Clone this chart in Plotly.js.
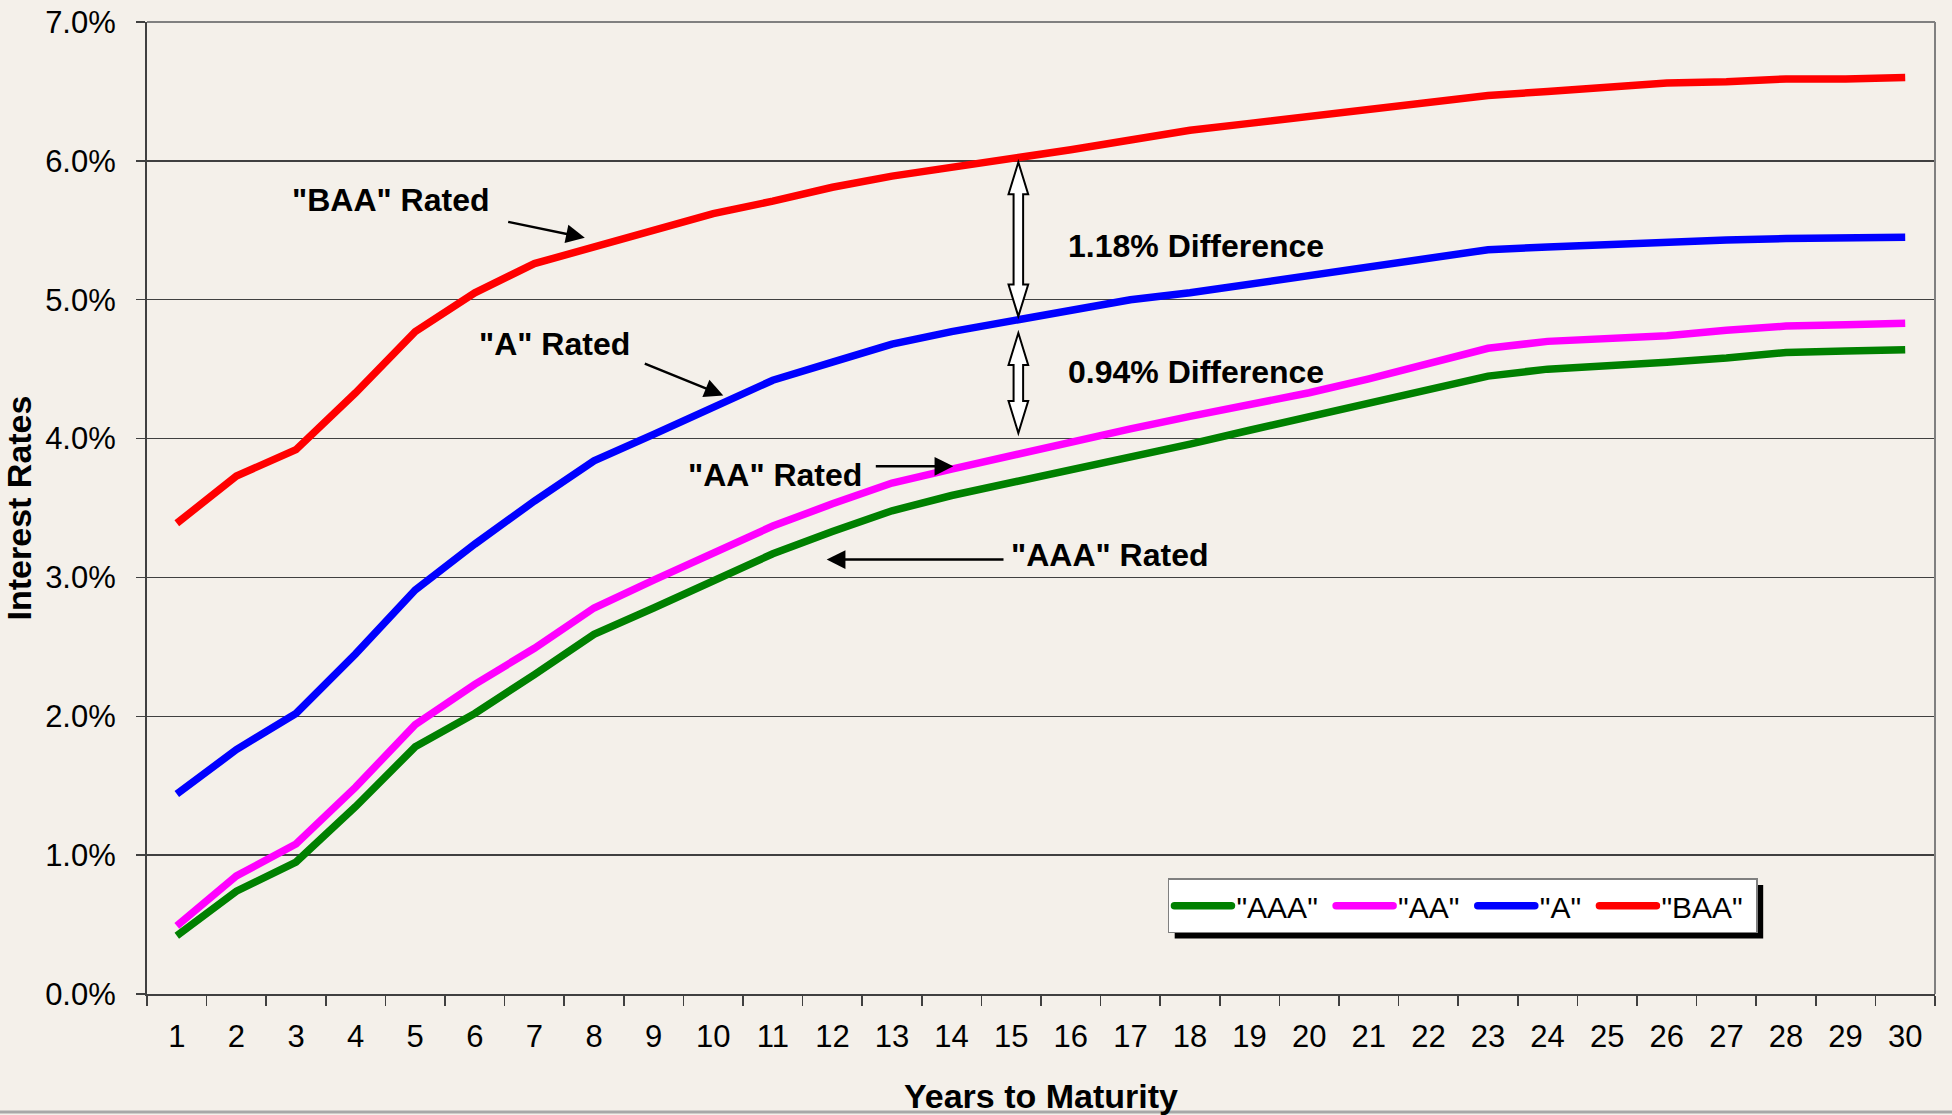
<!DOCTYPE html>
<html>
<head>
<meta charset="utf-8">
<script src="https://cdn.plot.ly/plotly-3.0.1.min.js"></script>
<style>
  html, body { margin:0; padding:0; background:#F4F0EA; }
  #chart { width:1952px; height:1115px; }
</style>
</head>
<body>
<div id="chart"></div>
<script>
// Years to maturity (categories)
const years = [1,2,3,4,5,6,7,8,9,10,11,12,13,14,15,16,17,18,19,20,21,22,23,24,25,26,27,28,29,30];
// Interest rates in percent
const aaa = [0.42,0.74,0.95,1.35,1.78,2.02,2.30,2.59,2.78,2.98,3.17,3.33,3.48,3.59,3.68,3.77,3.86,3.96,4.06,4.16,4.26,4.35,4.45,4.50,4.52,4.55,4.58,4.62,4.63,4.64];
const aa  = [0.49,0.85,1.08,1.49,1.94,2.23,2.49,2.78,2.98,3.18,3.37,3.53,3.68,3.78,3.88,3.97,4.07,4.16,4.24,4.33,4.43,4.54,4.65,4.70,4.72,4.74,4.78,4.81,4.82,4.83];
const a   = [1.44,1.76,2.02,2.45,2.91,3.24,3.55,3.84,4.03,4.22,4.42,4.55,4.68,4.77,4.85,4.93,5.00,5.05,5.11,5.18,5.24,5.30,5.36,5.38,5.40,5.42,5.43,5.44,5.45,5.45];
const baa = [3.39,3.73,3.92,4.33,4.77,5.05,5.26,5.38,5.50,5.62,5.71,5.81,5.89,5.95,6.01,6.08,6.15,6.22,6.27,6.32,6.37,6.42,6.47,6.50,6.53,6.56,6.57,6.59,6.59,6.60];
const seriesNames = ['"AAA"','"AA"','"A"','"BAA"'];
const seriesColors = ['#008000','#FF00FF','#0000FF','#FF0000'];
const yTicks = [0,1,2,3,4,5,6,7];
const yTickText = ['0.0%','1.0%','2.0%','3.0%','4.0%','5.0%','6.0%','7.0%'];

const seriesValues = [aaa, aa, a, baa];
const traces = seriesValues.map((vals, i) => ({
  type:'scatter', mode:'lines', x: years, y: vals, name: seriesNames[i] + '\u00a0',
  line:{color: seriesColors[i], width:7.5}
}));

// Double block arrow (annotation decoration) between two curves at year ~15
const diffX = 15.12;
function dblArrow(xc, yTop, yBot){
  const hw=0.165, sw=0.08, hl=0.23;
  return `M${xc},${yTop} L${xc+hw},${yTop-hl} L${xc+sw},${yTop-hl} L${xc+sw},${yBot+hl} L${xc+hw},${yBot+hl} L${xc},${yBot} L${xc-hw},${yBot+hl} L${xc-sw},${yBot+hl} L${xc-sw},${yTop-hl} L${xc-hw},${yTop-hl} Z`;
}
const i15 = 14;
const shapes = [
  {type:'path', xref:'x', yref:'y', path: dblArrow(diffX, baa[i15]-0.02, a[i15]+0.03), fillcolor:'#FFFFFF', line:{color:'#000', width:2}, layer:'above'},
  {type:'path', xref:'x', yref:'y', path: dblArrow(diffX, a[i15]-0.09, aa[i15]+0.16), fillcolor:'#FFFFFF', line:{color:'#000', width:2}, layer:'above'},
  // plot frame (top and right, gray)
  {type:'line', xref:'paper', yref:'paper', x0:0, x1:1, y0:1, y1:1, line:{color:'#808080', width:2}},
  {type:'line', xref:'paper', yref:'paper', x0:1, x1:1, y0:0, y1:1, line:{color:'#808080', width:2}},
  // outer chart border at bottom
  {type:'line', xref:'paper', yref:'paper', x0:-0.09, x1:1.02, y0:-0.1215, y1:-0.1215, line:{color:'#A8A8A8', width:3}}
];

const bold = t => '<b>' + t + '</b>';
const annFont = {size:32, color:'#000', family:'Arial, "Liberation Sans", sans-serif'};
const arrowStyle = {showarrow:true, arrowhead:2, arrowsize:1.5, arrowwidth:2.5, arrowcolor:'#000', text:'', axref:'x', ayref:'y', xref:'x', yref:'y'};
const annotations = [
  {x:4.586, y:5.717, text:bold('"BAA" Rated'), showarrow:false, font:annFont, xref:'x', yref:'y'},
  {x:7.34, y:4.679, text:bold('"A" Rated'), showarrow:false, font:annFont, xref:'x', yref:'y'},
  {x:11.03, y:3.735, text:bold('"AA" Rated'), showarrow:false, font:annFont, xref:'x', yref:'y'},
  {x:16.65, y:3.158, text:bold('"AAA" Rated'), showarrow:false, font:annFont, xref:'x', yref:'y'},
  {x:18.10, y:5.389, text:bold('1.18% Difference'), showarrow:false, font:annFont, xref:'x', yref:'y'},
  {x:18.10, y:4.477, text:bold('0.94% Difference'), showarrow:false, font:annFont, xref:'x', yref:'y'},
  Object.assign({x:7.846, y:5.447, ax:6.535, ay:5.563}, arrowStyle),
  Object.assign({x:10.169, y:4.311, ax:8.827, ay:4.544}, arrowStyle),
  Object.assign({x:14.029, y:3.80, ax:12.703, ay:3.80}, arrowStyle),
  Object.assign({x:11.904, y:3.129, ax:14.896, ay:3.129}, arrowStyle)
];

const layout = {
  width:1952, height:1115,
  margin:{l:147, r:17, t:22, b:121, pad:0},
  paper_bgcolor:'#F4F0EA', plot_bgcolor:'#F4F0EA',
  font:{family:'Arial, "Liberation Sans", sans-serif', color:'#000'},
  showlegend:true,
  xaxis:{
    range:[0.5,30.5], tickmode:'array', tickvals: years, ticktext: years.map(String),
    ticks:'', showgrid:false, zeroline:false, showline:true, linecolor:'#404040', linewidth:2,
    tickfont:{size:31}, ticklabelstandoff:14,
    minor:{tick0:0.5, dtick:1, ticks:'outside', ticklen:10, tickwidth:1.5, tickcolor:'#404040', showgrid:false},
    title:{text:bold('Years to Maturity'), font:{size:34}, standoff:33}
  },
  yaxis:{
    range:[0,7], tickmode:'array', tickvals: yTicks, ticktext: yTickText,
    ticks:'outside', ticklen:9, tickwidth:1.5, tickcolor:'#404040',
    showgrid:true, gridcolor:'#404040', gridwidth:1.5, zeroline:false,
    showline:true, linecolor:'#404040', linewidth:2,
    tickfont:{size:31}, ticklabelstandoff:14,
    title:{text:bold('Interest Rates'), font:{size:34}, standoff:6}
  },
  legend:{
    orientation:'h', x:0.571, y:0.119, xanchor:'left', yanchor:'top',
    bgcolor:'#FFFFFF', bordercolor:'#808080', borderwidth:1.5,
    font:{size:30}, itemwidth:57, tracegroupgap:0
  },
  shapes: shapes,
  annotations: annotations
};

const gd = document.getElementById('chart');
Plotly.newPlot(gd, traces, layout, {staticPlot:true, displayModeBar:false}).then(function(){
  const bg = gd.querySelector('.legend .bg');
  if(!bg) return;
  const r = bg.getBoundingClientRect(), g = gd.getBoundingClientRect();
  const sz = gd._fullLayout._size;
  const off = 6;
  const x0 = (r.left - g.left + off - sz.l)/sz.w, x1 = (r.right - g.left + off - sz.l)/sz.w;
  const y0 = 1 - (r.bottom - g.top + off - sz.t)/sz.h, y1 = 1 - (r.top - g.top + off - sz.t)/sz.h;
  const sh = shapes.slice();
  sh.push({type:'rect', xref:'paper', yref:'paper', x0:x0, x1:x1, y0:y0, y1:y1, fillcolor:'#000', line:{width:0}, layer:'above'});
  return Plotly.relayout(gd, {shapes: sh});
}).then(function(){
  gd.querySelectorAll('.legend .js-line').forEach(function(p){
    p.setAttribute('d','M5,0h57');
    p.style.strokeLinecap = 'round';
  });
});
</script>
</body>
</html>
